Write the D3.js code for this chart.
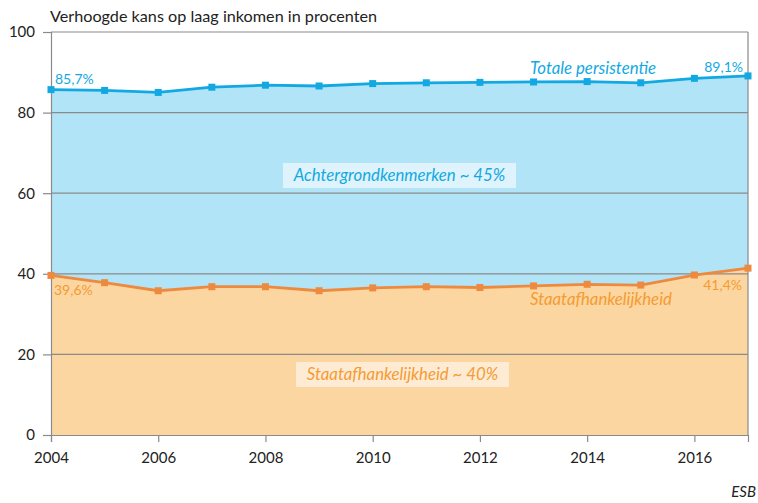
<!DOCTYPE html>
<html><head><meta charset="utf-8">
<script src="https://cdn.jsdelivr.net/npm/d3@7"></script>
<style>body{margin:0;background:#fff}svg{display:block}text{font-family:Lato,"Open Sans",sans-serif}</style>
</head><body><svg id="c" width="758" height="503"></svg>
<script>
const years = [2004,2005,2006,2007,2008,2009,2010,2011,2012,2013,2014,2015,2016,2017];
const totaal = [85.7,85.5,85.0,86.3,86.8,86.6,87.2,87.4,87.5,87.6,87.7,87.4,88.5,89.1];
const staat = [39.6,37.8,35.8,36.8,36.8,35.8,36.5,36.8,36.6,37.0,37.4,37.2,39.7,41.4];
const yTicks = [0,20,40,60,80,100];
const xTicks = [2004,2006,2008,2010,2012,2014,2016];

const svg = d3.select("#c");
const L=51,R=748,T=32,B=435;
const x = d3.scaleLinear().domain([2004,2017]).range([L,R]);
const y = d3.scaleLinear().domain([0,100]).range([B,T]);
const blue="#12a9e2", blueFill="#b2e4f8", orange="#ee8a3f", orangeFill="#fcd6a0", orangeText="#f59b33";

const blueArea = d3.area().x((d,i)=>x(years[i])).y0((d,i)=>y(staat[i])).y1(d=>y(d));
svg.append("path").attr("d",blueArea(totaal)).attr("fill",blueFill);
const orArea = d3.area().x((d,i)=>x(years[i])).y0(y(0)).y1(d=>y(d));
svg.append("path").attr("d",orArea(staat)).attr("fill",orangeFill);

// grid
svg.append("g").selectAll("line").data(yTicks.filter(d=>d>0)).join("line")
 .attr("x1",L).attr("x2",R).attr("y1",d=>y(d)).attr("y2",d=>y(d))
 .attr("stroke","#8a8a8a").attr("stroke-width",1.2);

// axes
const ya = svg.append("g").attr("transform",`translate(${L},0)`).call(d3.axisLeft(y).tickValues(yTicks).tickSize(8).tickPadding(8));
ya.select(".domain").attr("stroke","#8a8a8a").attr("stroke-width",1.2);
ya.selectAll(".tick line").attr("stroke","#8a8a8a").attr("stroke-width",1.2);
ya.selectAll("text").attr("font-size",15).attr("fill","#222").attr("font-family","Lato,sans-serif");
const xa = svg.append("g").attr("transform",`translate(0,${B})`).call(d3.axisBottom(x).tickValues(xTicks).tickFormat(d3.format("d")).tickSize(7).tickPadding(10));
xa.select(".domain").attr("stroke","#8a8a8a").attr("stroke-width",1.2);
xa.selectAll(".tick line").attr("stroke","#8a8a8a").attr("stroke-width",1.2);
xa.selectAll("text").attr("font-size",15).attr("fill","#222").attr("font-family","Lato,sans-serif");
svg.append("line").attr("x1",R).attr("x2",R).attr("y1",T).attr("y2",B).attr("stroke","#8a8a8a").attr("stroke-width",1.2);

// lines
const line = d3.line().x((d,i)=>x(years[i])).y(d=>y(d));
svg.append("path").attr("d",line(totaal)).attr("fill","none").attr("stroke",blue).attr("stroke-width",2.8);
svg.append("path").attr("d",line(staat)).attr("fill","none").attr("stroke",orange).attr("stroke-width",2.8);
svg.append("g").selectAll("rect").data(totaal).join("rect")
 .attr("x",(d,i)=>x(years[i])-3.5).attr("y",d=>y(d)-3.5).attr("width",7).attr("height",7).attr("fill",blue);
svg.append("g").selectAll("rect").data(staat).join("rect")
 .attr("x",(d,i)=>x(years[i])-3.5).attr("y",d=>y(d)-3.5).attr("width",7).attr("height",7).attr("fill",orange);

// texts
svg.append("text").attr("x",50).attr("y",22).attr("font-size",16.2).attr("fill","#222").text("Verhoogde kans op laag inkomen in procenten");
svg.append("text").attr("x",756).attr("y",497).attr("text-anchor","end").attr("font-size",15).attr("font-style","italic").attr("fill","#222").text("ESB");

function t(xp,yp,s,col,anchor,italic,fs){
  return svg.append("text").attr("x",xp).attr("y",yp).attr("font-size",fs||15).attr("fill",col)
   .attr("text-anchor",anchor||"start").attr("font-style",italic?"italic":"normal").text(s);
}
t(55,84,"85,7%",blue,"start",false,14);
t(743,72,"89,1%",blue,"end",false,14);
t(530,74,"Totale persistentie",blue,"start",true,16.8);
t(54,295,"39,6%",orangeText,"start",false,14);
t(742,290,"41,4%",orangeText,"end",false,14);
t(530,305,"Staatafhankelijkheid",orangeText,"start",true,16.8);

svg.append("rect").attr("x",283).attr("y",163).attr("width",233).attr("height",25).attr("fill","#def3fc");
t(399.5,181,"Achtergrondkenmerken ~ 45%",blue,"middle",true,16.8);
svg.append("rect").attr("x",296).attr("y",362).attr("width",213).attr("height",25).attr("fill","#feebd3");
t(402.5,380,"Staatafhankelijkheid ~ 40%",orangeText,"middle",true,16.8);
</script></body></html>
